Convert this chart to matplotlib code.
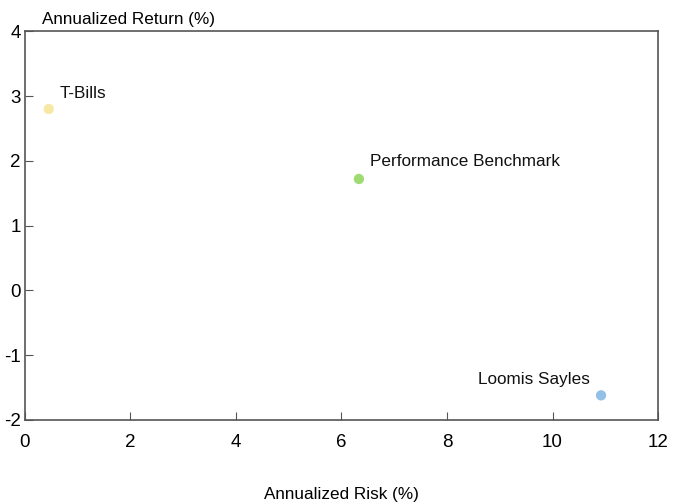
import matplotlib.pyplot as plt

names = ["T-Bills", "Performance Benchmark", "Loomis Sayles"]
risk = [0.45, 6.33, 10.92]
ret = [2.80, 1.72, -1.62]
colors = ["#F7E8A6", "#9EDC72", "#94C0E6"]
# label offsets in points (dx, dy)
offsets = [(8, 6), (8, 7), (-8, 6)]
aligns = ["left", "left", "right"]

plt.rcParams["font.family"] = ["Liberation Sans", "DejaVu Sans"]
plt.rcParams["axes.unicode_minus"] = False

fig = plt.figure(figsize=(6.83, 5.04), dpi=100)
ax = fig.add_axes([0.0366, 0.1667, 0.9268, 0.7713])

ax.scatter(risk, ret, s=55, c=colors, edgecolors="none", zorder=3)
for n, x, y, off, ha in zip(names, risk, ret, offsets, aligns):
    ax.annotate(n, (x, y), xytext=off, textcoords="offset points",
                ha=ha, va="bottom", fontsize=12.3, color="#111111")

ax.set_xlim(0, 12)
ax.set_ylim(-2, 4)
ax.set_xticks(range(0, 13, 2))
ax.set_yticks(range(-2, 5))
ax.tick_params(direction="in", length=6, color="#555555", labelsize=13.5,
               top=False, right=False)
ax.tick_params(axis="x", pad=10)
ax.tick_params(axis="y", pad=3)
for s in ax.spines.values():
    s.set_color("#555555")
    s.set_linewidth(1.2)

ax.set_xlabel("Annualized Risk (%)", fontsize=12.3, labelpad=26)
ax.text(0.027, 1.012, "Annualized Return (%)", transform=ax.transAxes,
        fontsize=12.3, ha="left", va="bottom")

fig.savefig("out.png", dpi=100)
